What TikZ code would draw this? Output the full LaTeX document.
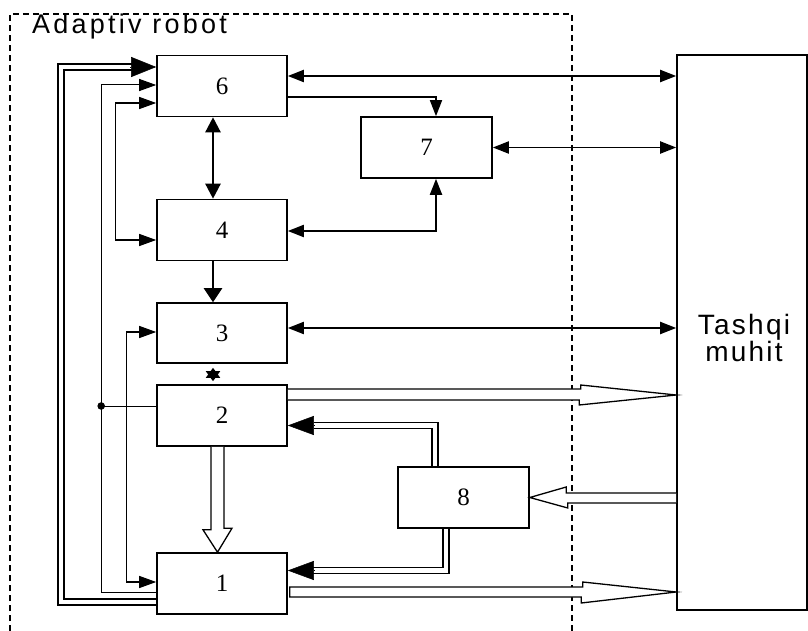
\documentclass[tikz,border=0pt]{standalone}
\usepackage{fontspec}
\setmainfont{Liberation Serif}
\newfontfamily\titlefont[LetterSpace=12]{Liberation Sans}
\newfontfamily\envfont[LetterSpace=8]{Liberation Sans}
\usetikzlibrary{arrows.meta}
\begin{document}
\begin{tikzpicture}[x=1pt,y=-1pt,
  blk/.style={draw, line width=1.6pt, minimum width=130pt, minimum height=61pt, inner sep=0pt, font=\fontsize{25}{25}\selectfont},
  frame/.style={line width=1.4pt, dash pattern=on 6pt off 4pt},
  bi/.style={line width=1.9pt, {Triangle[length=16pt,width=12pt]}-{Triangle[length=16pt,width=12pt]}},
  one/.style={line width=1.6pt, -{Triangle[length=16pt,width=12pt]}},
  thinbi/.style={line width=1.2pt, {Triangle[length=17pt,width=12pt]}-{Triangle[length=17pt,width=12pt]}},
  thinone/.style={line width=1pt, -{Triangle[length=17pt,width=12pt]}},
  thinln/.style={line width=1pt},
  hollow/.style={line width=1.3pt, fill=white, line join=miter},
  dbl/.style={double, double distance=4.5pt, line width=1.3pt},
  dblthick/.style={double, double distance=4pt, line width=2pt},
  bigtip/.style={line width=0.5pt, -{Triangle[length=26pt,width=19pt]}}
]
\useasboundingbox (0,0) rectangle (808,631);
% frame
\draw[frame] (10,631) -- (10,14) -- (572,14) -- (572,631);
\node[anchor=base west, inner sep=0pt, font=\titlefont\fontsize{27}{27}\selectfont] (title) at (32,34) {Adaptiv robot};
% blocks
\node[blk] (n6) at (222,86) {6};
\node[blk, minimum width=131pt] (n7) at (426.5,147.5) {7};
\node[blk] (n4) at (222,230) {4};
\node[blk, minimum height=60pt] (n3) at (222,333) {3};
\node[blk] (n2) at (222,415.5) {2};
\node[blk] (n1) at (222,583.5) {1};
\node[blk, minimum width=131pt] (n8) at (463.5,497.5) {8};
\node[blk, minimum width=130pt, minimum height=555pt] (tm) at (742,332.5) {};
\node[align=center, inner sep=0pt, font=\envfont\fontsize{28}{27}\selectfont] (tml) at (744,338) {Tashqi\\muhit};
% right connections
\draw[bi] ([yshift=10pt]n6.east) -- ([yshift=10pt]n6.east -| tm.west);
\draw[one] ([yshift=-11pt]n6.east) -| ([xshift=9.5pt]n7.north);
\draw[bi] (n7.east) -- (n7.east -| tm.west);
\draw[bi] ([yshift=-1pt]n4.east) -| ([xshift=9.5pt]n7.south);
\draw[bi] ([yshift=5pt]n3.east) -- ([yshift=5pt]n3.east -| tm.west);
% vertical
\draw[line width=2.4pt, {Triangle[length=15pt,width=15pt]}-{Triangle[length=15pt,width=15pt]}] ([xshift=-9pt]n6.south) -- ([xshift=-9pt]n4.north);
\draw[line width=2.4pt, -{Triangle[length=14pt,width=18pt]}] ([xshift=-9pt]n4.south) -- ([xshift=-9pt]n3.north);
\draw[line width=1.8pt, shorten <=4pt, shorten >=3pt, {Triangle[length=10pt,width=14pt]}-{Triangle[length=10pt,width=14pt]}] ([xshift=-9pt]n3.south) -- ([xshift=-9pt]n2.north);
% hollow arrows
\draw[hollow] ([yshift=26.5pt]n2.east) -- ++(293,0) -- ++(0,-4) -- ([yshift=-62.5pt]tm.west) -- ++(-97,10) -- ++(0,-5) -- ([yshift=15.5pt]n2.east);
\draw[hollow] ([xshift=2pt,yshift=-3.5pt]n1.east) -- ++(293,0) -- ++(0,-5) -- ([yshift=-259.5pt]tm.west) -- ++(-95,11) -- ++(0,-6) -- ([xshift=2pt,yshift=-13.5pt]n1.east) -- cycle;
\draw[hollow] ([yshift=-160.5pt]tm.west) -- ++(-110,0) -- ++(0,-6) -- (n8.east) -- ++(38,10.5) -- ++(0,-5) -- ([yshift=-170.5pt]tm.west);
\draw[hollow] ([xshift=-11pt]n2.south) -- ++(0,83) -- ++(-8,0) -- ([xshift=-4.5pt]n1.north) -- ++(14.5,-24) -- ++(-8,0) -- ([xshift=2pt]n2.south);
% block 8 outputs
\draw[dbl] ([xshift=-28.5pt]n8.north) |- ([xshift=26pt,yshift=-10pt]n2.east);
\draw[bigtip] ([xshift=27pt,yshift=-10pt]n2.east) -- ([yshift=-10pt]n2.east);
\draw[dbl] ([xshift=-17.5pt]n8.south) |- ([xshift=25pt,yshift=13pt]n1.east);
\draw[bigtip] ([xshift=27pt,yshift=13pt]n1.east) -- ([yshift=13pt]n1.east);
% left feedback lines
\draw[dblthick] ([yshift=-18.5pt]n1.west) -- ++(-95,0) |- ([xshift=-24pt,yshift=19pt]n6.west);
\draw[line width=0.5pt, -{Triangle[length=25pt,width=20pt]}] ([xshift=-26pt,yshift=19pt]n6.west) -- ([yshift=19pt]n6.west);
\draw[thinln] ([yshift=9.5pt]n2.west) -- ++(-55,0) coordinate (dot);
\draw[thinone] (dot) |- ([yshift=1pt]n6.west);
\draw[thinln] (dot) |- ([yshift=-8.5pt]n1.west);
\fill (dot) circle (3.8pt);
\draw[thinbi] ([yshift=-17pt]n6.west) -- ++(-41,0) |- ([yshift=-10pt]n4.west);
\draw[thinbi] ([yshift=1pt]n3.west) -- ++(-30,0) |- ([yshift=1.5pt]n1.west);
\end{tikzpicture}
\end{document}
